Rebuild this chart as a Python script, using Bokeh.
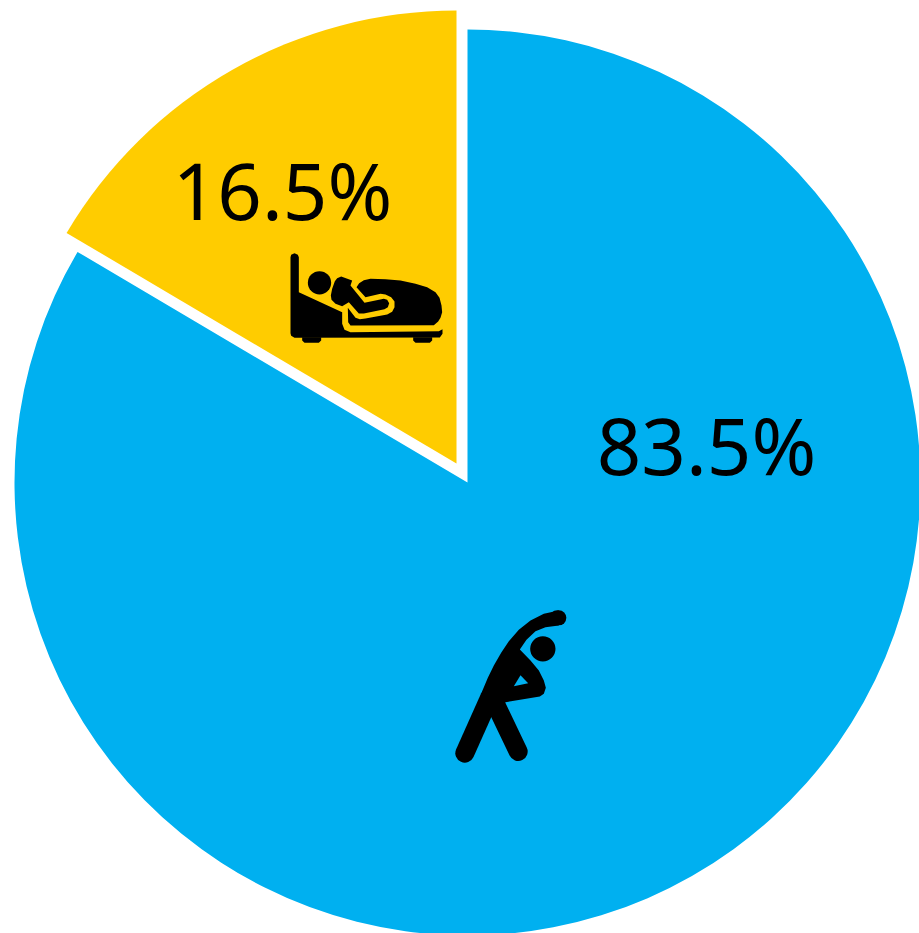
from math import pi

from bokeh.core.properties import value
from bokeh.embed import file_html
from bokeh.models import Range1d
from bokeh.plotting import figure
from bokeh.resources import INLINE

# Share of each state, in percent
categories = ["Active", "Resting"]
shares = [83.5, 16.5]
share_labels = ["83.5%", "16.5%"]

BLUE = "#00B0F0"
YELLOW = "#FFCC00"
INK = "#000000"
WIDTH, HEIGHT = 919, 933
RADIUS = 453

# Pictogram outlines, in a local grid of 3 units per pixel
BED_ORIGIN = (270, 240)
BED_BODY = [(60, 50), (62, 43), (72, 38), (82, 43), (85, 50), (85, 155), (215, 215),
            (215, 250), (222, 268), (240, 275), (505, 272), (516, 266), (516, 280),
            (508, 291), (72, 292), (62, 286), (60, 278)]
BED_FOOT_L = [(95, 290), (152, 290), (152, 300), (145, 307), (102, 307), (95, 300)]
BED_FOOT_R = [(428, 290), (485, 290), (485, 300), (478, 307), (435, 307), (428, 300)]
BLANKET = [(258, 140), (266, 128), (280, 119), (300, 115), (345, 116), (390, 120), (435, 130),
           (470, 140), (495, 155), (507, 172), (513, 195), (515, 215), (510, 232), (503, 243),
           (490, 254), (240, 255), (233, 245), (232, 202), (255, 232), (268, 236), (285, 234),
           (350, 222), (365, 214), (372, 200), (372, 183), (362, 170), (345, 162), (330, 160),
           (285, 170)]
SLEEPER = [(193, 122), (200, 113), (212, 108), (245, 120), (240, 135), (282, 187), (340, 175),
           (350, 178), (356, 188), (352, 200), (342, 206), (280, 219), (265, 219), (235, 185),
           (215, 197), (195, 190), (183, 178), (181, 165), (185, 145)]
SLEEPER_HEAD = (147, 127, 35)

STRETCH_ORIGIN = (440, 600)
STRETCH_FINGERTIP = [(355, 52), (350, 52)]
STRETCH_LEG_L = [(148, 290), (73, 458)]
STRETCH_LEG_R = [(155, 290), (233, 453)]
STRETCH_BODY = [(123, 280), (125, 272), (142, 232), (160, 195), (182, 157), (205, 122),
                (235, 88), (270, 60), (310, 40), (355, 30), (355, 75), (315, 80), (285, 92),
                (258, 118), (238, 147), (270, 180), (295, 210), (310, 240), (316, 262),
                (310, 280), (298, 288), (195, 305), (155, 340), (130, 310)]
STRETCH_GAP = [(240, 224), (263, 248), (220, 257)]
STRETCH_HEAD = (307, 145, 38)


def to_plot(points, origin):
    """Convert local pictogram points to plot coordinates (y pointing up)."""
    ox, oy = origin
    return ([ox + x / 3 for x, _ in points],
            [HEIGHT - (oy + y / 3) for _, y in points])


p = figure(width=WIDTH, height=HEIGHT, output_backend="svg", toolbar_location=None,
           x_range=Range1d(0, WIDTH), y_range=Range1d(0, HEIGHT),
           min_border=0, outline_line_color=None, background_fill_color="white")
p.axis.visible = False
p.grid.visible = False

# Wedges run clockwise from twelve o'clock; the smaller one is pulled out
active_sweep = shares[0] / sum(shares) * 2 * pi
top = pi / 2
p.wedge(x=[467], y=[HEIGHT - 482], radius=RADIUS, start_angle=top - active_sweep, end_angle=top,
        fill_color=BLUE, line_color=None)
p.wedge(x=[456], y=[HEIGHT - 463], radius=RADIUS, start_angle=top, end_angle=top - active_sweep,
        fill_color=YELLOW, line_color=None)

# Resting pictogram
for shape in (BED_BODY, BED_FOOT_L, BED_FOOT_R, BLANKET, SLEEPER):
    xs, ys = to_plot(shape, BED_ORIGIN)
    p.patch(xs, ys, fill_color=INK, line_color=None)
hx, hy = to_plot([SLEEPER_HEAD[:2]], BED_ORIGIN)
p.circle(hx, hy, radius=SLEEPER_HEAD[2] / 3, fill_color=INK, line_color=None)

# Active pictogram
for limb, limb_width in ((STRETCH_FINGERTIP, 15), (STRETCH_LEG_L, 19), (STRETCH_LEG_R, 19)):
    xs, ys = to_plot(limb, STRETCH_ORIGIN)
    p.line(xs, ys, line_color=INK, line_width=limb_width, line_cap="round", line_join="round")
xs, ys = to_plot(STRETCH_BODY, STRETCH_ORIGIN)
p.patch(xs, ys, fill_color=INK, line_color=None)
xs, ys = to_plot(STRETCH_GAP, STRETCH_ORIGIN)
p.patch(xs, ys, fill_color=BLUE, line_color=None)
hx, hy = to_plot([STRETCH_HEAD[:2]], STRETCH_ORIGIN)
p.circle(hx, hy, radius=STRETCH_HEAD[2] / 3, fill_color=INK, line_color=None)

# Percentage labels
p.text(x=[706, 282], y=[HEIGHT - 444, HEIGHT - 189], text=share_labels,
       text_font=value("Noto Sans"), text_font_size="78px", text_color=INK,
       text_align="center", text_baseline="alphabetic")

open("out.html", "w").write(file_html(p, INLINE))
